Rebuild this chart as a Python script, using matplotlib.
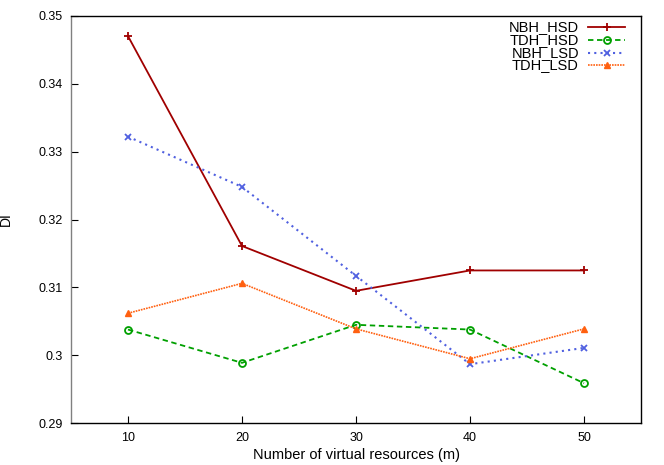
import matplotlib
matplotlib.use('Agg')
from matplotlib import pyplot as plt

plt.rcParams['font.family'] = ['Liberation Sans', 'DejaVu Sans']

# data
m = [10, 20, 30, 40, 50]
nbh_hsd = [0.3470, 0.3161, 0.3095, 0.3125, 0.3125]
tdh_hsd = [0.3038, 0.2989, 0.3045, 0.3038, 0.2959]
nbh_lsd = [0.3322, 0.3248, 0.3117, 0.2987, 0.3011]
tdh_lsd = [0.3062, 0.3106, 0.3039, 0.2995, 0.3039]

labels = ['NBH_HSD', 'TDH_HSD', 'NBH_LSD', 'TDH_LSD']
series = [nbh_hsd, tdh_hsd, nbh_lsd, tdh_lsd]
styles = [
    dict(color='#a00000', ls='-', lw=1.3, marker='+', ms=6, mew=1.3),
    dict(color='#00a000', ls=(0, (3, 2)), lw=1.3, marker='o', ms=5, mfc='none', mew=1.3),
    dict(color='#5060e0', ls=(0, (1, 2)), lw=1.5, marker='x', ms=5, mew=1.3),
    dict(color='#ff6010', ls=(0, (1, 0.6)), lw=1.2, marker='^', ms=4),
]

fig = plt.figure(figsize=(6.64, 4.65), dpi=100)
ax = fig.add_axes([0.1069, 0.0897, 0.8585, 0.8765])

for ys, st in zip(series, styles):
    ax.plot(m, ys, **st)

ax.set_xlim(5, 55)
ax.set_ylim(0.29, 0.35)
ax.set_xticks(m)
ax.set_yticks([0.29, 0.30, 0.31, 0.32, 0.33, 0.34, 0.35])
ax.set_yticklabels(['0.29', '0.3', '0.31', '0.32', '0.33', '0.34', '0.35'])
ax.tick_params(direction='in', length=5, labelsize=9, pad=6)
ax.spines['left'].set_color('#808080')
for s in ['left', 'right', 'top', 'bottom']:
    ax.spines[s].set_linewidth(1.0)

ax.set_xlabel('Number of virtual resources (m)', fontsize=10.5, labelpad=3)
ax.set_ylabel('DI', fontsize=10)
ax.yaxis.set_label_coords(-0.102, 0.5)

# gnuplot style key: right aligned text, sample on the right
rows = [0.972, 0.940, 0.909, 0.878]
for lab, st, yy in zip(labels, styles, rows):
    ax.text(0.891, yy, lab, transform=ax.transAxes, ha='right', va='center', fontsize=10.5)
    line_st = {k: v for k, v in st.items() if k != 'marker'}
    ax.plot([0.907, 0.972], [yy, yy], transform=ax.transAxes, clip_on=False, **line_st)
    ax.plot([0.9395], [yy], transform=ax.transAxes, clip_on=False, ls='none',
            **{k: v for k, v in st.items() if k not in ('ls', 'lw')})

fig.savefig('out.png', dpi=100)
